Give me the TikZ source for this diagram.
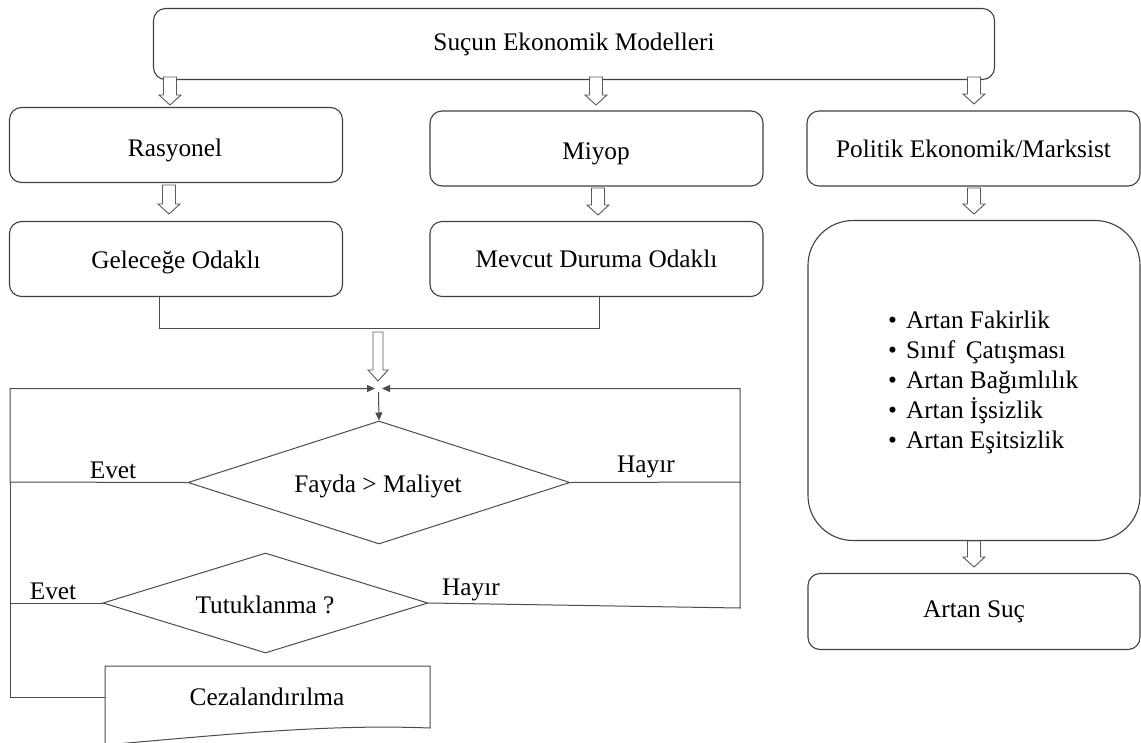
\documentclass[tikz,border=0pt]{standalone}
\usepackage{fontspec}
\setmainfont{Liberation Serif}
\usetikzlibrary{shapes.geometric,arrows.meta}
\begin{document}
\begin{tikzpicture}[x=1pt,y=-1pt,
  font=\fontsize{25.3}{30}\selectfont,
  every node/.style={inner sep=0pt, text=black},
  box/.style={draw=black!75, line width=1.1pt, rounded corners=12pt, fill=white},
  dia/.style={draw=black!70, line width=1pt, shape=diamond},
  conn/.style={draw=black!70, line width=1pt},
  tip/.style={-{Triangle[length=8pt,width=7pt]}},
  hollow/.style={draw=black!65, line width=0.9pt, fill=white},
  pics/harrow/.style={code={\path[hollow] (-6.5,0) -- (-6.5,#1-10) -- (-11,#1-10) -- (0,#1) -- (11,#1-10) -- (6.5,#1-10) -- (6.5,0) -- cycle;}},
  pics/bigarrow/.style={code={\path[hollow] (-5,0) -- (-5,#1-11) -- (-10,#1-11) -- (0,#1) -- (10,#1-11) -- (5,#1-11) -- (5,0) -- cycle;}}
]
\useasboundingbox[fill=white] (0,0) rectangle (1141,742);

% boxes
\node[box, minimum width=841pt, minimum height=71pt] (top) at (574,44) {Suçun Ekonomik Modelleri};
\node[box, minimum width=333pt, minimum height=75pt] (ras) at (176,145) {};
\node (rast) at (175,150) {Rasyonel};
\node[box, minimum width=333pt, minimum height=75pt] (miy) at (596.5,148.5) {};
\node (miyt) at (596,153.5) {Miyop};
\node[box, minimum width=333pt, minimum height=75pt] (pol) at (973.5,148.5) {Politik Ekonomik/Marksist};
\node[box, minimum width=333pt, minimum height=75pt] (gel) at (176,259) {};
\node (gelt) at (176,262) {Geleceğe Odaklı};
\node[box, minimum width=333pt, minimum height=75pt] (mev) at (596.5,259) {Mevcut Duruma Odaklı};
\node[box, rounded corners=45pt, minimum width=332pt, minimum height=320pt] (big) at (974,380.5) {};
\node[anchor=north west, align=left] (list) at (888,311)
  {\textbullet\hspace{9pt}Artan Fakirlik\\
   \textbullet\hspace{9pt}Sınıf\, Çatışması\\
   \textbullet\hspace{9pt}Artan Bağımlılık\\
   \textbullet\hspace{9pt}Artan İşsizlik\\
   \textbullet\hspace{9pt}Artan Eşitsizlik};
\node[box, minimum width=332pt, minimum height=76pt] (suc) at (974,611.5) {Artan Suç};

% hollow arrows
\pic at (170,77) {harrow=28};
\pic at (596,77) {harrow=28};
\pic at (974,77) {harrow=27};
\pic at (169,185) {harrow=29};
\pic at (598,188) {harrow=27};
\pic at (974,188) {harrow=26};
\pic at (974,541) {harrow=26};
\pic at (378,332) {bigarrow=49};

% bracket joining the two lower boxes
\draw[conn] (gel.south -| 159,0) -- (159,328) -- (599,328) -- (mev.south -| 599,0);

% diamonds
\node[dia, minimum width=382pt, minimum height=123pt] (d1) at (379,482.5) {};
\node (d1t) at (378,486) {Fayda > Maliyet};
\node[dia, minimum width=325pt, minimum height=100pt] (d2) at (265.5,603) {};
\node (d2t) at (265,605) {Tutuklanma ?};

% document shape
\path[draw=black!70, line width=1pt, fill=white] (105,666) -- (430,666) -- (430,728)
  .. controls (330,724) and (230,734) .. (105,745) -- cycle;
\node (cez) at (267,697) {Cezalandırılma};
\coordinate (cezW) at (105,697);

% junction
\coordinate (jL) at (375,388.5);
\coordinate (jR) at (382,388.5);
\coordinate (jT) at (378.5,392);

% loops
\coordinate (L1) at (10,482);
\coordinate (L0) at (10,388.5);
\coordinate (L2) at (10,603);
\coordinate (L3) at (10,697);
\coordinate (R1) at (740,482);
\coordinate (R0) at (740,388.5);
\coordinate (R2) at (740,608);

\draw[conn, tip] (d1.west) -- (L1) -- (L0) -- (jL);
\draw[conn, tip] (d1.east) -- (R1) -- (R0) -- (jR);
\draw[conn] (R1) -- (R2) -- (d2.east);
\draw[conn] (d2.west) -- (L2);
\draw[conn] (L1) -- (L3) -- (cezW);
\draw[conn, tip] (jT) -- (d1.north);

% labels
\node[anchor=south] (ev1) at (113,479) {Evet};
\node[anchor=south] (hy1) at (646,478) {Hayır};
\node[anchor=south] (ev2) at (53,600) {Evet};
\node[anchor=south] (hy2) at (471,601) {Hayır};
\end{tikzpicture}
\end{document}
